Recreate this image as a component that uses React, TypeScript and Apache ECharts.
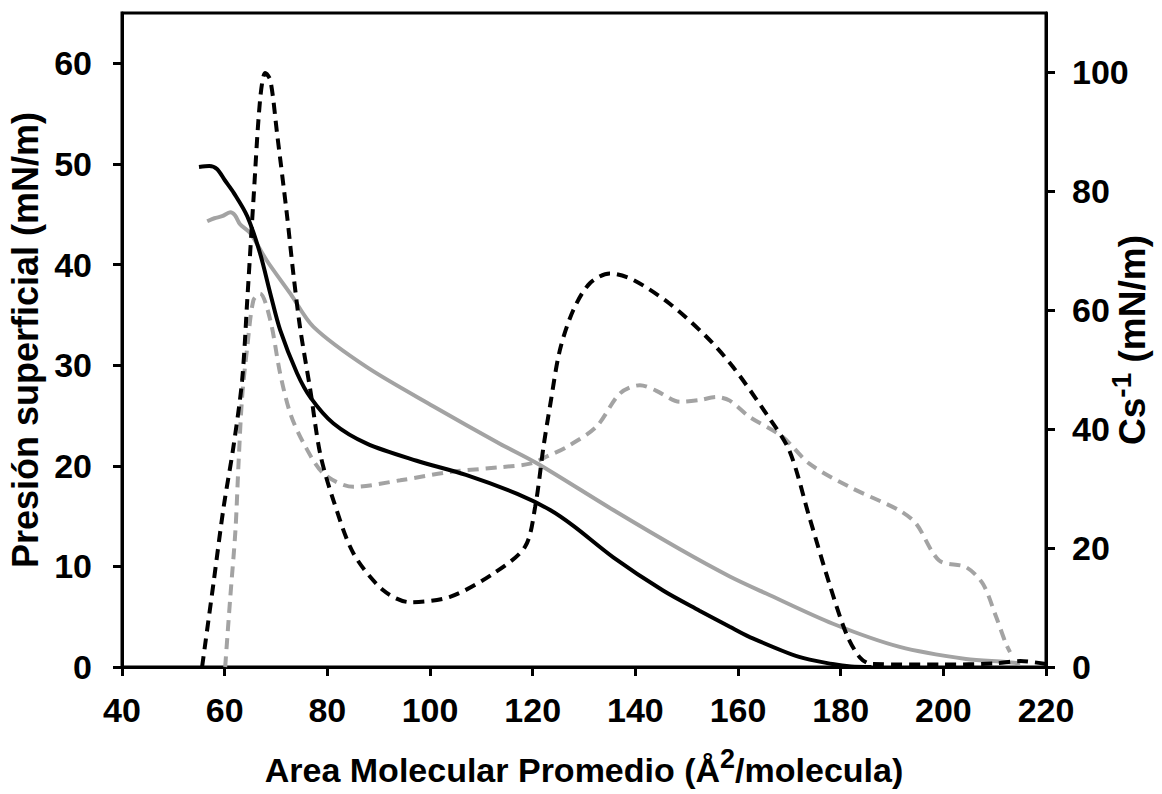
import React, { useEffect, useRef } from "react";
import * as echarts from "echarts";

// Presión superficial (left axis)
const blackPiX = [55, 57, 58.5, 60, 61.8, 64.4, 66.9, 68.9, 70.8, 74.1, 76.7, 81.2, 87.7, 97.4, 107, 117, 123.4, 128, 135.7, 145.4, 152.5, 158.4, 162.2, 171.9, 178.4, 182, 186];
const blackPiY = [49.7, 49.8, 49.5, 48.4, 47.1, 44.8, 41.1, 37.1, 33.5, 29.2, 26.8, 24.2, 22.2, 20.5, 19.1, 17.2, 15.6, 14, 10.9, 7.6, 5.6, 4.0, 3.0, 1.0, 0.3, 0.05, 0];

const grayPiX = [56.6, 58, 59.5, 61.1, 62, 63, 65, 68.2, 72.8, 77.3, 87.7, 100.7, 113.6, 121, 135.7, 148.7, 158.4, 165.5, 178.5, 191.5, 204.4, 212.2, 215];
const grayPiY = [44.3, 44.6, 44.8, 45.2, 44.9, 44.0, 43.1, 40.4, 37.1, 33.8, 29.8, 25.9, 22.2, 20.2, 15.6, 11.7, 9.0, 7.3, 4.3, 2.0, 0.8, 0.5, 0.35];

// Cs^-1 (right axis)
const blackCsX = [55.6, 57.9, 59.8, 61.7, 63.4, 64.4, 65.6, 66.9, 67.9, 68.9, 70.2, 72.1, 73.4, 74.7, 76.7, 78.6, 81.2, 85.1, 90.9, 96.1, 103.9, 112.3, 118.5, 120.5, 122.1, 123.4, 125.3, 127.9, 131.1, 135, 139.6, 146.7, 153.9, 159, 165.5, 170, 173.9, 177.8, 181.1, 183.7, 186, 200, 210, 215, 220];
const blackCsY = [0, 14.6, 26.9, 37, 48.2, 61.7, 78.5, 95.4, 99.9, 98.7, 89.8, 76.3, 66, 57, 46.5, 35.9, 28.0, 19.1, 12.9, 10.9, 11.8, 15.7, 20.2, 27, 37, 44, 53.3, 60.0, 64.5, 66.2, 65.1, 61.1, 55.5, 50.5, 42.6, 36.4, 25.2, 14.0, 5.6, 1.65, 0.5, 0.4, 0.6, 1.0, 0.5];

const grayCsX = [60.1, 61.1, 62.1, 62.7, 63.4, 64.4, 65.6, 66.9, 68.9, 70.8, 72.8, 75.4, 79.3, 85.1, 94.2, 103.9, 113.6, 119.5, 123, 126.6, 132.4, 137, 140.9, 144, 148.7, 152.5, 155.8, 158.4, 162.2, 168.7, 173.9, 181.7, 191.5, 194.7, 199.2, 204.4, 207.7, 210.3, 212.2, 213];
const grayCsY = [0, 11.8, 23, 34.2, 45.4, 53.8, 61.7, 62.8, 58.3, 49.4, 42.6, 37.6, 32.5, 30.3, 31.4, 32.8, 33.6, 34.2, 35.5, 37.0, 40.4, 46.0, 47.4, 46.5, 44.6, 44.9, 45.4, 44.8, 42.1, 38.7, 34.2, 30.3, 26.3, 24.1, 17.9, 16.8, 14.0, 8.4, 3.9, 2.5];

const xTicks = [40, 60, 80, 100, 120, 140, 160, 180, 200, 220];
const leftTicks = [0, 10, 20, 30, 40, 50, 60];
const rightTicks = [0, 20, 40, 60, 80, 100];

const zip = (xs: number[], ys: number[]) => xs.map((x, i) => [x, ys[i]]);

const FONT = "Liberation Sans";
const GRAY = "#a3a3a3";

export default function App() {
  const ref = useRef<HTMLDivElement>(null);
  useEffect(() => {
    document.body.style.margin = "0";
    const chart = echarts.init(ref.current!, null, { renderer: "svg" });
    const labelStyle = { fontFamily: FONT, fontWeight: "bold" as const, fontSize: 34, color: "#000" };
    const axisLine = { show: true, lineStyle: { color: "#000", width: 3 } };
    const tick = (vals: number[]) => ({ show: true, length: 9, lineStyle: { color: "#000", width: 3 }, customValues: vals });
    chart.setOption({
      animation: false,
      backgroundColor: "#fff",
      grid: {
        left: 122, right: 116, top: 13, bottom: 127,
        show: true, borderColor: "#000", borderWidth: 3,
        containLabel: false, outerBoundsMode: "none",
      },
      xAxis: {
        type: "value",
        min: 40,
        max: 220,
        interval: 20,
        axisLine,
        axisTick: tick(xTicks),
        splitLine: { show: false },
        axisLabel: { ...labelStyle, margin: 26, customValues: xTicks },
        name: "{a|Area Molecular Promedio (Å}{s|2}{a|/molecula)}",
        nameLocation: "middle",
        nameGap: 78,
        nameTextStyle: {
          rich: {
            a: { fontFamily: FONT, fontWeight: "bold", fontSize: 34, color: "#000", verticalAlign: "bottom", lineHeight: 42 },
            s: { fontFamily: FONT, fontWeight: "bold", fontSize: 27, color: "#000", verticalAlign: "top", lineHeight: 42, padding: [0, 0, 14, 0] },
          },
        },
      },
      yAxis: [
        {
          type: "value",
          min: 0,
          max: 65,
          position: "left",
          axisLine,
          axisTick: tick(leftTicks),
          splitLine: { show: false },
          axisLabel: { ...labelStyle, margin: 30, customValues: leftTicks },
          name: "Presión superficial (mN/m)",
          nameLocation: "middle",
          nameRotate: 90,
          nameGap: 76,
          nameTextStyle: { fontFamily: FONT, fontWeight: "bold", fontSize: 36, color: "#000" },
        },
        {
          type: "value",
          min: 0,
          max: 110,
          position: "right",
          axisLine,
          axisTick: tick(rightTicks),
          splitLine: { show: false },
          axisLabel: { ...labelStyle, margin: 26, customValues: rightTicks },
          name: "{a|Cs}{s|-1}{a| (mN/m)}",
          nameLocation: "middle",
          nameRotate: 90,
          nameGap: 61,
          nameMoveOverlap: false,
          nameTextStyle: {
            rich: {
              a: { fontFamily: FONT, fontWeight: "bold", fontSize: 37, color: "#000", verticalAlign: "bottom", lineHeight: 44 },
              s: { fontFamily: FONT, fontWeight: "bold", fontSize: 28, color: "#000", verticalAlign: "top", lineHeight: 44, padding: [0, 0, 14, 0] },
            },
          },
        },
      ],
      series: [
        {
          type: "line", yAxisIndex: 1, data: zip(grayCsX, grayCsY), showSymbol: false, smooth: 0.3,
          lineStyle: { color: GRAY, width: 4, type: [11, 7] },
        },
        {
          type: "line", yAxisIndex: 0, data: zip(grayPiX, grayPiY), showSymbol: false, smooth: 0.3,
          lineStyle: { color: GRAY, width: 4 },
        },
        {
          type: "line", yAxisIndex: 1, data: zip(blackCsX, blackCsY), showSymbol: false, smooth: 0.3,
          lineStyle: { color: "#000", width: 4, type: [11, 7] },
        },
        {
          type: "line", yAxisIndex: 0, data: zip(blackPiX, blackPiY), showSymbol: false, smooth: 0.3,
          lineStyle: { color: "#000", width: 4 },
        },
      ],
    });
    return () => chart.dispose();
  }, []);
  return <div ref={ref} style={{ width: 1162, height: 794 }} />;
}
